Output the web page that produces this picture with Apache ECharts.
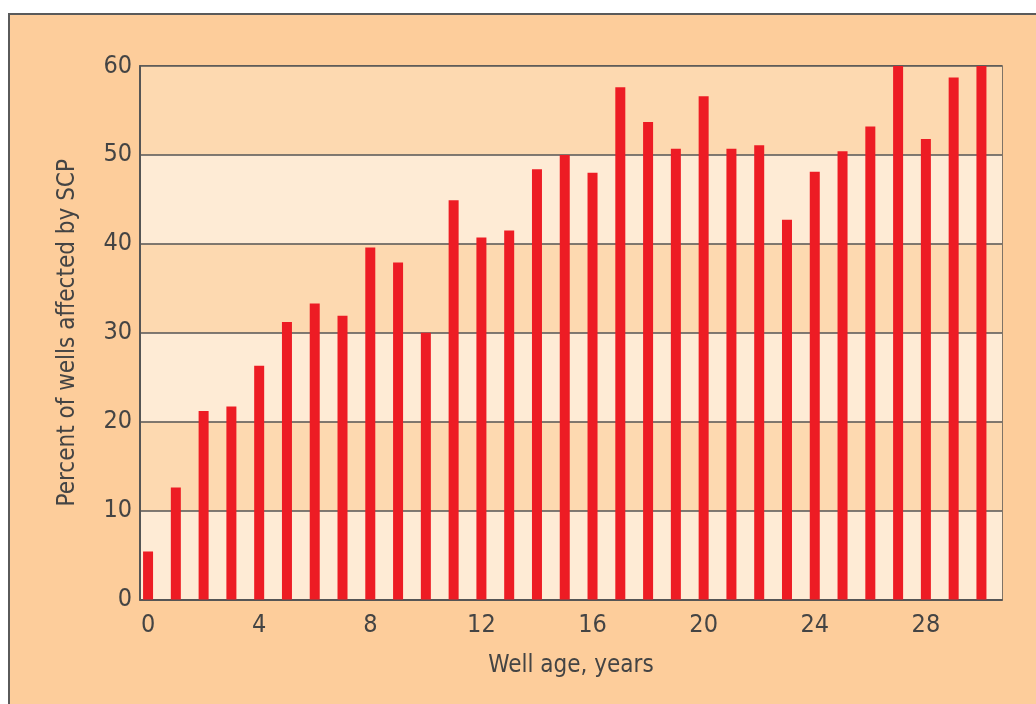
<!DOCTYPE html>
<html>
<head>
<meta charset="utf-8">
<script src="https://cdn.jsdelivr.net/npm/echarts@6/dist/echarts.min.js"></script>
<style>
html,body{margin:0;padding:0;background:#ffffff;}
#chart{width:1036px;height:704px;}
</style>
</head>
<body>
<div id="chart"></div>
<script>
const wellAges = [0,1,2,3,4,5,6,7,8,9,10,11,12,13,14,15,16,17,18,19,20,21,22,23,24,25,26,27,28,29,30];
const percentAffected = [5.4,12.6,21.2,21.7,26.3,31.2,33.3,31.9,39.6,37.9,30.0,44.9,40.7,41.5,48.4,50.0,48.0,57.6,53.7,50.7,56.6,50.7,51.1,42.7,48.1,50.4,53.2,60.0,51.8,58.7,60.0];
const xTickLabels = [0,4,8,12,16,20,24,28];
const yTicks = [0,10,20,30,40,50,60];

const FONT = '"Liberation Sans Narrow", "DejaVu Sans Condensed", sans-serif';
const TXT = '#444444';

const chart = echarts.init(document.getElementById('chart'), null, {renderer:'canvas'});
chart.setOption({
  backgroundColor: '#ffffff',
  animation: false,
  graphic: [{
    type: 'rect', z: -100, silent: true,
    shape: {x: 9, y: 14, width: 1100, height: 800},
    style: {fill: '#fdcd9b', stroke: '#5a5a5a', lineWidth: 2}
  }],
  grid: {
    left: 140, right: 34, top: 66, bottom: 104.5,
    show: true, borderColor: '#555555', borderWidth: 1.5, backgroundColor: 'transparent'
  },
  xAxis: {
    type: 'value', min: -0.29, max: 30.74,
    name: 'Well age, years', nameLocation: 'middle', nameGap: 54,
    nameTextStyle: {fontFamily: FONT, fontSize: 24, color: TXT},
    axisLine: {show: true, onZero: false, lineStyle: {color: '#555555', width: 2}},
    axisTick: {show: false},
    splitLine: {show: false},
    axisLabel: {customValues: xTickLabels, fontFamily: FONT, fontSize: 25, color: TXT, margin: 13}
  },
  yAxis: {
    type: 'value', min: 0, max: 60, interval: 10,
    name: 'Percent of wells affected by SCP', nameLocation: 'middle', nameGap: 60,
    nameTextStyle: {fontFamily: FONT, fontSize: 24, color: TXT},
    axisLine: {show: true, onZero: false, lineStyle: {color: '#555555', width: 2}},
    axisTick: {show: false},
    splitLine: {show: true, lineStyle: {color: '#555555', width: 1.5}},
    splitArea: {show: true, areaStyle: {color: ['#feebd5', '#fdd9b0']}},
    axisLabel: {customValues: yTicks, fontFamily: FONT, fontSize: 25, color: TXT, margin: 8}
  },
  series: [{
    type: 'bar',
    barWidth: 10,
    itemStyle: {color: '#ed1c24'},
    data: wellAges.map((a, i) => [a, percentAffected[i]])
  }]
});
</script>
</body>
</html>
